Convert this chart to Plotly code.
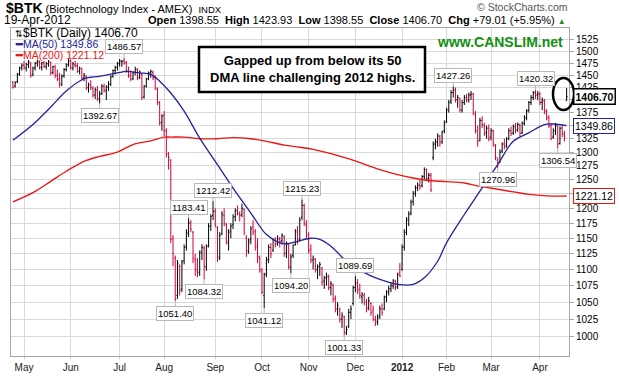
import math
import pandas as pd
import plotly.graph_objects as go

# ---------------- data ----------------
holidays = ["2011-05-30", "2011-07-04", "2011-09-05", "2011-11-24", "2011-12-26",
            "2012-01-02", "2012-01-16", "2012-02-20", "2012-04-06"]
trade_days = [d.strftime("%Y-%m-%d") for d in pd.bdate_range("2011-04-25", "2012-04-19")
              if d.strftime("%Y-%m-%d") not in holidays]

# daily bars, month by month: (open, high, low, close)
bars_apr11 = [(1436,1438,1423,1425),(1428,1438,1425,1435),(1437,1455,1434,1452),(1452,1468,1449,1465),(1466,1475,1460,1470)]
bars_may11 = [(1472,1480,1462,1466),(1465,1476,1458,1473),(1472,1482,1465,1478),(1476,1478,1445,1450),(1452,1468,1448,1465),
              (1466,1478,1460,1475),(1476,1483,1468,1479),(1478,1481,1462,1466),(1467,1478,1460,1476),(1476,1480,1465,1468),
              (1468,1478,1462,1474),(1474,1482,1468,1478),(1477,1479,1450,1455),(1456,1470,1452,1468),(1467,1472,1444,1450),
              (1450,1462,1438,1442),(1443,1455,1425,1432),(1432,1452,1428,1448),(1449,1465,1445,1462),(1462,1475,1458,1471),
              (1473,1484,1468,1480)]
bars_jun11 = [(1480,1483,1462,1465),(1465,1478,1460,1474),(1472,1480,1466,1470),(1470,1476,1455,1458),(1459,1468,1452,1465),
              (1463,1466,1440,1444),(1445,1455,1438,1450),(1448,1450,1420,1424),(1425,1435,1415,1430),(1432,1440,1420,1425),
              (1423,1428,1405,1410),(1410,1425,1402,1420),(1420,1428,1398,1403),(1402,1418,1392.67,1412),(1413,1432,1410,1428),
              (1427,1433,1415,1420),(1418,1430,1400,1426),(1425,1438,1418,1432),(1432,1450,1428,1447),(1448,1462,1445,1460),
              (1460,1470,1452,1466),(1467,1478,1460,1474)]
bars_jul11 = [(1475,1484,1468,1480),(1478,1482,1468,1479),(1480,1486.57,1472,1476),(1476,1480,1455,1460),(1458,1468,1445,1450),
              (1449,1460,1438,1442),(1443,1458,1440,1455),(1456,1468,1450,1462),(1462,1465,1440,1445),(1446,1460,1442,1457),
              (1452,1455,1400,1405),(1406,1430,1403,1428),(1428,1445,1425,1442),(1443,1458,1440,1455),(1455,1462,1445,1458),
              (1456,1460,1440,1445),(1446,1450,1420,1424),(1422,1425,1390,1395),(1395,1398,1350,1355),(1356,1372,1340,1368)]
bars_aug11 = [(1370,1378,1330,1340),(1340,1345,1290,1296),(1296,1300,1268,1290),(1285,1287,1142,1148),(1150,1155,1105,1125),
              (1118,1122,1051.40,1055),(1060,1115,1055,1110),(1105,1108,1060,1068),(1070,1115,1065,1112),(1114,1140,1108,1135),
              (1136,1165,1130,1160),(1158,1183.41,1152,1175),(1176,1180,1160,1165),(1160,1162,1110,1118),(1115,1125,1090,1098),
              (1100,1118,1088,1095),(1096,1130,1090,1128),(1126,1140,1115,1135),(1134,1138,1084.32,1105),(1104,1140,1098,1136),
              (1138,1175,1135,1170),(1170,1190,1162,1186),(1188,1212.42,1180,1195)]
bars_sep11 = [(1195,1200,1168,1172),(1168,1170,1112,1120),(1118,1160,1115,1155),(1158,1195,1155,1190),(1188,1200,1170,1175),
              (1172,1175,1140,1145),(1142,1165,1130,1160),(1162,1175,1150,1170),(1172,1190,1165,1185),(1186,1200,1178,1196),
              (1196,1205,1188,1192),(1190,1195,1178,1188),(1189,1208,1185,1200),(1198,1200,1155,1160),(1150,1155,1120,1130),
              (1128,1150,1125,1145),(1148,1170,1140,1165),(1168,1180,1155,1160),(1162,1165,1130,1135),(1138,1150,1110,1120),
              (1118,1122,1095,1100)]
bars_oct11 = [(1098,1102,1062,1065),(1060,1095,1041.12,1092),(1093,1120,1088,1115),(1116,1140,1110,1135),(1135,1142,1118,1125),
              (1130,1150,1128,1148),(1147,1152,1135,1140),(1142,1155,1138,1150),(1148,1152,1135,1145),(1146,1158,1140,1155),
              (1152,1155,1120,1125),(1126,1145,1118,1140),(1140,1142,1100,1105),(1103,1125,1094.20,1120),(1122,1140,1118,1138),
              (1140,1165,1138,1162),(1160,1170,1140,1145),(1148,1185,1145,1180),(1185,1215.23,1180,1205),(1205,1208,1170,1175),
              (1172,1180,1150,1155)]
bars_nov11 = [(1148,1160,1125,1130),(1132,1140,1110,1115),(1115,1122,1100,1118),(1116,1118,1095,1100),(1100,1108,1085,1104),
              (1105,1112,1090,1108),(1102,1104,1075,1080),(1082,1090,1070,1086),(1088,1095,1075,1090),(1088,1092,1068,1072),
              (1072,1082,1060,1078),(1076,1078,1050,1055),(1055,1060,1035,1040),(1040,1050,1030,1045),(1040,1042,1020,1025),
              (1025,1035,1012,1030),(1028,1030,1001.33,1005),(1006,1015,1002,1010),(1015,1040,1012,1035),(1035,1045,1025,1040),
              (1048,1075,1045,1072)]
bars_dec11 = [(1072,1089.69,1065,1078),(1080,1085,1062,1068),(1070,1078,1055,1060),(1058,1065,1048,1062),(1060,1064,1045,1050),
              (1050,1055,1035,1040),(1042,1058,1038,1052),(1048,1050,1030,1035),(1038,1045,1022,1025),(1024,1030,1015,1020),
              (1022,1032,1016,1028),(1030,1045,1025,1040),(1040,1048,1030,1035),(1040,1060,1038,1058),(1058,1068,1050,1065),
              (1066,1075,1060,1070),(1070,1080,1065,1075),(1075,1085,1070,1082),(1082,1084,1068,1072),(1073,1095,1070,1092),
              (1095,1110,1088,1090)]
bars_jan12 = [(1100,1140,1098,1135),(1136,1165,1130,1160),(1160,1185,1155,1180),(1182,1195,1170,1190),(1192,1215,1188,1210),
              (1212,1230,1205,1225),(1226,1240,1220,1235),(1236,1245,1230,1240),(1240,1250,1232,1238),(1240,1258,1236,1255),
              (1256,1272,1250,1268),(1268,1270,1248,1252),(1252,1262,1245,1258),(1258,1262,1228,1232),(1290,1320,1285,1315),
              (1315,1325,1305,1320),(1318,1335,1310,1330),(1330,1332,1310,1318),(1320,1340,1315,1338),(1340,1360,1335,1355)]
bars_feb12 = [(1358,1385,1355,1380),(1380,1400,1375,1395),(1398,1420,1392,1415),(1415,1427.26,1405,1420),(1420,1425,1395,1400),
              (1400,1410,1385,1405),(1402,1405,1375,1380),(1380,1400,1375,1395),(1395,1410,1390,1405),(1405,1412,1395,1400),
              (1400,1415,1395,1410),(1410,1418,1400,1412),(1412,1414,1370,1375),(1372,1378,1335,1340),(1340,1350,1310,1320),
              (1322,1365,1320,1360),(1360,1368,1345,1352),(1350,1355,1330,1335),(1336,1350,1325,1345),(1345,1352,1320,1325)]
bars_mar12 = [(1328,1345,1322,1340),(1340,1342,1310,1315),(1312,1315,1285,1290),(1285,1290,1270.96,1280),(1282,1305,1280,1300),
              (1302,1318,1298,1315),(1315,1325,1305,1310),(1312,1328,1308,1325),(1325,1345,1322,1340),(1340,1348,1330,1335),
              (1336,1352,1332,1348),(1348,1355,1335,1340),(1342,1356,1338,1352),(1350,1354,1330,1335),(1336,1358,1334,1355),
              (1354,1370,1350,1365),(1365,1382,1360,1378),(1380,1398,1375,1395),(1395,1410,1390,1405),(1405,1418,1400,1415),
              (1414,1420.32,1402,1410),(1410,1418,1400,1412)]
bars_apr12 = [(1412,1416,1390,1395),(1395,1405,1380,1400),(1398,1402,1372,1378),(1378,1382,1360,1365),(1365,1370,1345,1350),
              (1350,1355,1322,1325),(1328,1345,1325,1340),(1340,1355,1332,1350),(1348,1350,1306.54,1315),(1316,1348,1314,1345),
              (1345,1350,1328,1335),(1333,1340,1320,1327.69),(1398.55,1423.93,1398.55,1406.70)]

ma50_dates = ["2011-04-25","2011-05-06","2011-05-18","2011-05-27","2011-06-09","2011-06-20","2011-06-30","2011-07-07",
              "2011-07-15","2011-07-22","2011-07-28","2011-08-04","2011-08-12","2011-08-23","2011-09-02","2011-09-14",
              "2011-09-26","2011-10-05","2011-10-13","2011-10-18","2011-10-25","2011-11-02","2011-11-08","2011-11-15",
              "2011-11-25","2011-12-07","2011-12-16","2011-12-29","2012-01-10","2012-01-18","2012-01-26","2012-02-01",
              "2012-02-13","2012-02-23","2012-03-06","2012-03-15","2012-03-26","2012-04-04","2012-04-11","2012-04-19"]
ma50_vals = [1322,1352,1386,1418,1443,1448,1455,1458,1455,1452,1438,1414,1378,1326,1277,1235,1192,1156,1142.5,1141,
             1145,1150,1148,1137,1113,1095,1084.5,1077,1077,1087,1113,1142.5,1189.5,1229.6,1277,1320,1336,1352,1353,1349.86]

ma200_dates = ["2011-04-25","2011-05-06","2011-05-18","2011-05-27","2011-06-09","2011-06-20","2011-06-30","2011-07-12",
               "2011-07-22","2011-08-01","2011-08-04","2011-08-12","2011-08-23","2011-09-02","2011-09-14","2011-09-26",
               "2011-10-05","2011-10-17","2011-10-26","2011-11-03","2011-11-25","2011-12-16","2011-12-29","2012-01-10",
               "2012-01-23","2012-02-01","2012-02-13","2012-02-23","2012-03-06","2012-03-15","2012-03-26","2012-04-05",
               "2012-04-19"]
ma200_vals = [1211,1227,1247,1265,1283,1292,1300,1314,1321,1328,1328,1328,1325,1325,1327,1325,1320,1313,1309,1305,
              1289,1268,1259,1253,1248,1246.5,1244,1238,1233,1228.5,1224,1221.5,1221.12]

# labelled highs / lows: (date, value, position)
marks = [("2011-07-06",1486.57,"up"),("2011-06-20",1392.67,"dn"),("2011-08-08",1051.40,"dn"),
         ("2011-08-16",1183.41,"up"),("2011-08-25",1084.32,"dn"),("2011-08-31",1212.42,"up"),
         ("2011-10-04",1041.12,"dn"),("2011-10-20",1094.20,"dn"),("2011-10-27",1215.23,"up"),
         ("2011-11-23",1001.33,"dn"),("2011-12-01",1089.69,"up"),("2012-02-06",1427.26,"up"),
         ("2012-03-06",1270.96,"dn"),("2012-03-29",1420.32,"up"),("2012-04-13",1306.54,"dn")]

month_ticks = ["2011-05-02","2011-06-01","2011-07-01","2011-08-01","2011-09-01","2011-10-03","2011-11-01",
               "2011-12-01","2012-01-03","2012-02-01","2012-03-01","2012-04-02"]
month_text = ["May","Jun","Jul","Aug","Sep","Oct","Nov","Dec","<b>2012</b>","Feb","Mar","Apr"]
price_ticks = list(range(1000, 1526, 25))

last_close, ma50_last, ma200_last = 1406.70, 1349.86, 1221.12

# ---------------- figure ----------------
bars = (bars_apr11 + bars_may11 + bars_jun11 + bars_jul11 + bars_aug11 + bars_sep11 + bars_oct11 +
        bars_nov11 + bars_dec11 + bars_jan12 + bars_feb12 + bars_mar12 + bars_apr12)
n = min(len(bars), len(trade_days))
x = trade_days[:n]
o = [b[0] for b in bars[:n]]
h = [b[1] for b in bars[:n]]
l = [b[2] for b in bars[:n]]
c = [b[3] for b in bars[:n]]

FONT = "Arial, Liberation Sans, sans-serif"
RED_BAR = "#d4003c"
BLUE = "#22229c"
RED = "#f01414"

fig = go.Figure()
fig.add_trace(go.Scatter(x=ma200_dates, y=ma200_vals, mode="lines", line=dict(color=RED, width=1.4, shape="spline"),
                         hoverinfo="skip"))
fig.add_trace(go.Scatter(x=ma50_dates, y=ma50_vals, mode="lines", line=dict(color=BLUE, width=1.3, shape="spline"),
                         hoverinfo="skip"))
fig.add_trace(go.Ohlc(x=x, open=o, high=h, low=l, close=c, tickwidth=0.45,
                      increasing=dict(line=dict(color="black", width=1)),
                      decreasing=dict(line=dict(color=RED_BAR, width=1))))

L, R, T, B = 11, 50, 28, 22
W, H = 619, 378
pw, ph = W - L - R, H - T - B

def px(X):
    return (X - L) / pw

def py(Y):
    return (H - B - Y) / ph

ann = []
for d, v, pos in marks:
    ann.append(dict(x=d, y=math.log10(v), xref="x", yref="y", text=f"{v:.2f}", showarrow=True,
                    arrowhead=0, arrowwidth=1, arrowcolor="#b8b8b8", ax=0, ay=(-11 if pos == "up" else 12),
                    bgcolor="white", bordercolor="#b8b8b8", borderwidth=1, borderpad=1,
                    font=dict(family=FONT, size=9.5, color="black")))

# right-axis value boxes
for v, col, bold in [(last_close, "black", True), (ma50_last, BLUE, False), (ma200_last, RED, False)]:
    t = f"<b>{v:.2f}</b>" if bold else f"{v:.2f}"
    ann.append(dict(x=1, y=math.log10(v), xref="paper", yref="y", xanchor="left", xshift=4, text=t,
                    showarrow=False, bgcolor="white", bordercolor=col, borderwidth=1.5 if bold else 1, borderpad=1,
                    font=dict(family=FONT, size=10.5, color="black")))

# header
ann.append(dict(x=px(4), y=py(8.5), xref="paper", yref="paper", xanchor="left", yanchor="middle", showarrow=False,
                text="<b>$BTK</b><span style='font-size:11px'> (Biotechnology Index - AMEX)  </span>"
                     "<span style='font-size:9.5px'>INDX</span>",
                font=dict(family=FONT, size=14, color="black")))
ann.append(dict(x=px(2), y=py(20), xref="paper", yref="paper", xanchor="left", yanchor="middle", showarrow=False,
                text="19-Apr-2012", font=dict(family=FONT, size=12, color="black")))
ann.append(dict(x=px(568), y=py(20), xref="paper", yref="paper", xanchor="right", yanchor="middle", showarrow=False,
                text="<b>Open</b> 1398.55  <b>High</b> 1423.93  <b>Low</b> 1398.55  <b>Close</b> 1406.70  "
                     "<b>Chg</b> +79.01 (+5.95%) <span style='color:#2a8a2a;font-size:8px'>▲</span>",
                font=dict(family=FONT, size=11, color="black")))
ann.append(dict(x=px(570), y=py(6.5), xref="paper", yref="paper", xanchor="right", yanchor="middle", showarrow=False,
                text="© StockCharts.com", font=dict(family=FONT, size=10.5, color="#555555")))

# in-plot legend
ann.append(dict(x=px(13), y=py(33), xref="paper", yref="paper", xanchor="left", yanchor="middle", showarrow=False,
                text="<span style='font-size:9px'>⇅</span>$BTK (Daily) 1406.70", font=dict(family=FONT, size=12, color="black")))
ann.append(dict(x=px(13), y=py(44), xref="paper", yref="paper", xanchor="left", yanchor="middle", showarrow=False,
                text="<b>━</b>MA(50) 1349.86", font=dict(family=FONT, size=10.5, color=BLUE)))
ann.append(dict(x=px(13), y=py(54.5), xref="paper", yref="paper", xanchor="left", yanchor="middle", showarrow=False,
                text="<b>━</b>MA(200) 1221.12", font=dict(family=FONT, size=10.5, color=RED)))

ann.append(dict(x=px(500), y=py(42), xref="paper", yref="paper", xanchor="center", yanchor="middle", showarrow=False,
                text="<b>www.CANSLIM.net</b>", font=dict(family=FONT, size=14, color="#119011")))

ann.append(dict(x=px(312), y=py(69.5), xref="paper", yref="paper", xanchor="center", yanchor="middle", showarrow=False,
                text="<b>Gapped up from below its 50<br>DMA line challenging 2012 highs.</b>",
                font=dict(family=FONT, size=13, color="black")))

shapes = [
    dict(type="rect", xref="paper", yref="paper", x0=px(199), x1=px(425), y0=py(92), y1=py(47),
         line=dict(color="black", width=2.5), fillcolor="white", layer="above"),
    dict(type="line", xref="paper", yref="y", x0=px(425), x1=px(555), y0=math.log10(1427.26), y1=math.log10(1427.26),
         line=dict(color="black", width=2.5)),
    dict(type="circle", xref="paper", yref="paper", x0=px(553), x1=px(574), y0=py(110), y1=py(78),
         line=dict(color="black", width=2.5)),
]

fig.update_layout(
    width=W, height=H, margin=dict(l=L, r=R, t=T, b=B, pad=0, autoexpand=False),
    paper_bgcolor="white", plot_bgcolor="white", showlegend=False,
    font=dict(family=FONT, size=10, color="black"),
    annotations=ann, shapes=shapes,
    xaxis=dict(type="date", range=["2011-04-22 03:30", "2012-04-20 01:30"], automargin=False,
               rangebreaks=[dict(bounds=["sat", "mon"]), dict(values=holidays)],
               rangeslider=dict(visible=False),
               tickvals=month_ticks, ticktext=month_text, tickfont=dict(family=FONT, size=10, color="#222"),
               showgrid=True, gridcolor="#d9d9d9", gridwidth=1, ticks="outside", ticklen=2,
               tickcolor="#c8c8c8", showline=True, linecolor="#a8a8a8",
               mirror=True, zeroline=False),
    yaxis=dict(type="log", side="right", range=[math.log10(972.6), math.log10(1551)], automargin=False,
               tickvals=price_ticks, ticktext=[str(v) for v in price_ticks],
               tickfont=dict(family=FONT, size=10, color="black"),
               showgrid=True, gridcolor="#d9d9d9", gridwidth=1, ticks="outside", ticklen=4, tickcolor="#a8a8a8",
               showline=True, linecolor="#a8a8a8", mirror=True, zeroline=False),
)

fig.write_html("out.html", config={"displayModeBar": False},
               post_script="document.body.style.margin='0px';document.body.style.padding='0px';")
